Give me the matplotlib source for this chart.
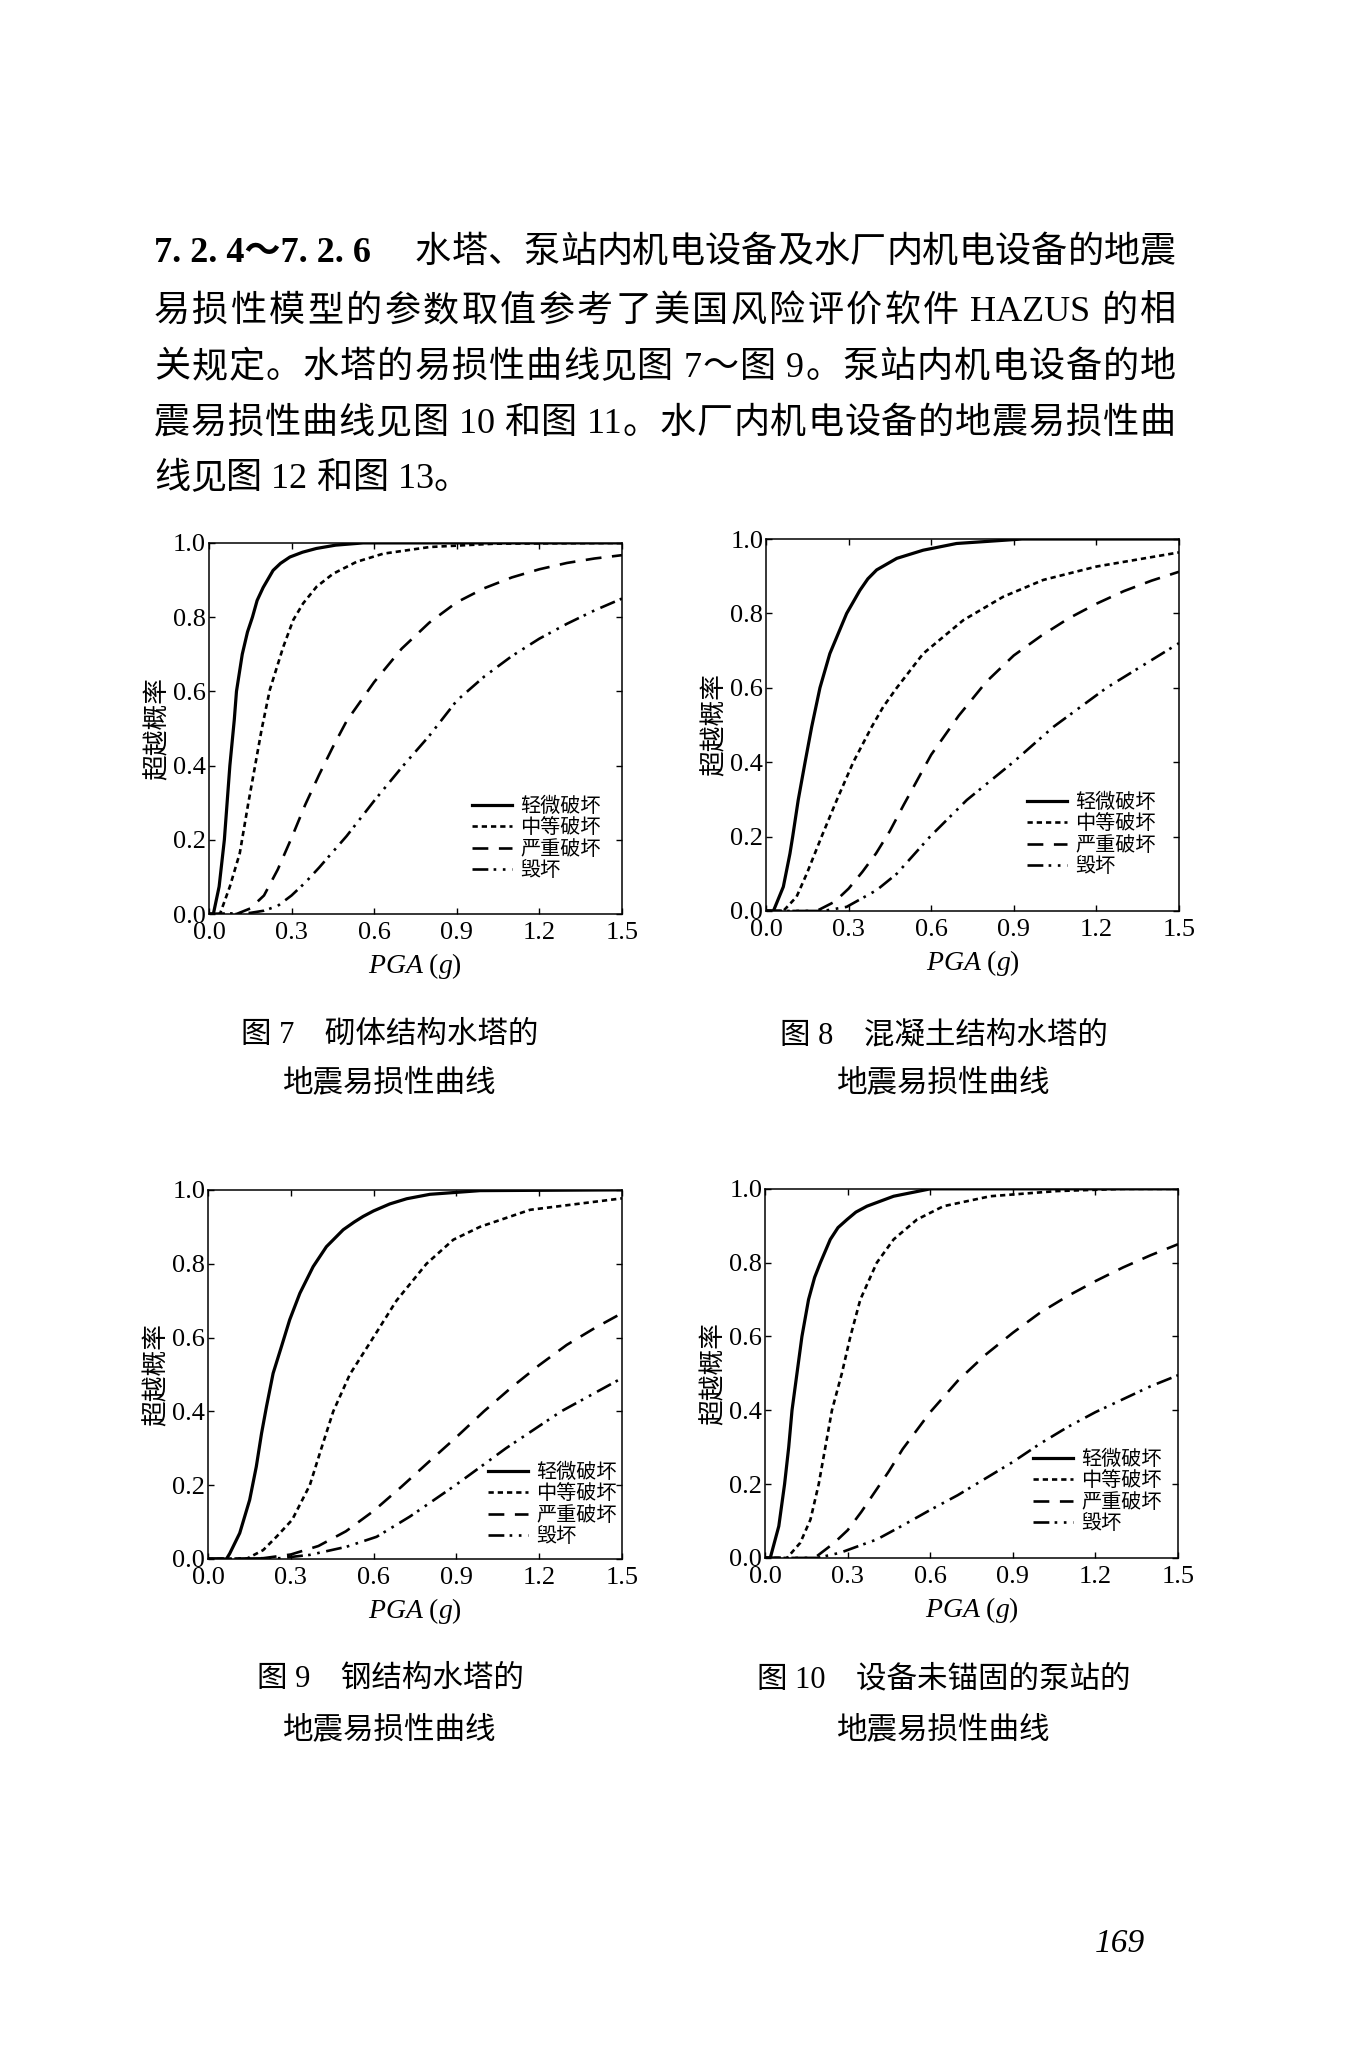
import re
import matplotlib
matplotlib.use("Agg")
import matplotlib.pyplot as plt
from matplotlib.ticker import FormatStrFormatter

plt.rcParams['font.family'] = ['Liberation Serif', 'Noto Sans CJK SC']
plt.rcParams['mathtext.fontset'] = 'custom'
plt.rcParams['mathtext.rm'] = 'Liberation Serif'
plt.rcParams['mathtext.it'] = 'Liberation Serif:italic'

W, H = 1355, 2048
CJK = ['Noto Sans CJK SC']

# ---- data ----
labels = ['轻微破坏', '中等破坏', '严重破坏', '毁坏']
xticks = [0.0, 0.3, 0.6, 0.9, 1.2, 1.5]
yticks = [0.0, 0.2, 0.4, 0.6, 0.8, 1.0]

# 图7 砌体结构水塔
f7_slight_x = [0, 0.016, 0.037, 0.056, 0.076, 0.092, 0.100, 0.121, 0.14, 0.158, 0.175, 0.197, 0.233, 0.26, 0.294, 0.34, 0.39, 0.46, 0.56, 1.5]
f7_slight_y = [0, 0.0, 0.074, 0.2, 0.4, 0.523, 0.6, 0.70, 0.76, 0.8, 0.845, 0.88, 0.926, 0.945, 0.962, 0.975, 0.985, 0.994, 1.0, 1.0]
f7_mod_x = [0, 0.04, 0.076, 0.112, 0.143, 0.167, 0.191, 0.221, 0.270, 0.306, 0.342, 0.391, 0.451, 0.536, 0.633, 0.802, 1.04, 1.5]
f7_mod_y = [0, 0.0, 0.074, 0.164, 0.299, 0.397, 0.496, 0.604, 0.720, 0.792, 0.837, 0.882, 0.917, 0.949, 0.971, 0.989, 0.998, 1.0]
f7_sev_x = [0, 0.1, 0.15, 0.2, 0.25, 0.3, 0.35, 0.4, 0.45, 0.5, 0.6, 0.7, 0.8, 0.9, 1.0, 1.1, 1.2, 1.3, 1.4, 1.5]
f7_sev_y = [0, 0.0, 0.015, 0.05, 0.12, 0.205, 0.295, 0.375, 0.45, 0.52, 0.625, 0.715, 0.785, 0.84, 0.878, 0.907, 0.929, 0.946, 0.958, 0.967]
f7_com_x = [0, 0.15, 0.2, 0.25, 0.3, 0.35, 0.4, 0.5, 0.6, 0.7, 0.8, 0.9, 1.0, 1.1, 1.2, 1.3, 1.4, 1.5]
f7_com_y = [0, 0.003, 0.009, 0.022, 0.05, 0.085, 0.125, 0.21, 0.305, 0.395, 0.48, 0.575, 0.64, 0.695, 0.742, 0.782, 0.818, 0.85]

# 图8 混凝土结构水塔
f8_slight_x = [0, 0.027, 0.063, 0.087, 0.097, 0.117, 0.142, 0.166, 0.196, 0.232, 0.293, 0.341, 0.37, 0.402, 0.475, 0.571, 0.692, 0.93, 1.5]
f8_slight_y = [0, 0.0, 0.065, 0.154, 0.2, 0.298, 0.4, 0.495, 0.6, 0.692, 0.8, 0.862, 0.893, 0.917, 0.948, 0.97, 0.988, 1.0, 1.0]
f8_mod_x = [0, 0.063, 0.111, 0.148, 0.202, 0.257, 0.317, 0.384, 0.426, 0.475, 0.571, 0.717, 0.862, 1.007, 1.2, 1.5]
f8_mod_y = [0, 0.0, 0.038, 0.10, 0.2, 0.298, 0.4, 0.495, 0.549, 0.6, 0.692, 0.782, 0.845, 0.89, 0.926, 0.964]
f8_sev_x = [0, 0.184, 0.25, 0.3, 0.35, 0.4, 0.45, 0.5, 0.6, 0.7, 0.8, 0.9, 1.0, 1.1, 1.2, 1.3, 1.4, 1.5]
f8_sev_y = [0, 0.0, 0.025, 0.06, 0.105, 0.155, 0.215, 0.285, 0.42, 0.525, 0.616, 0.687, 0.74, 0.787, 0.826, 0.86, 0.888, 0.912]
f8_com_x = [0, 0.208, 0.293, 0.402, 0.475, 0.596, 0.729, 0.898, 1.044, 1.237, 1.5]
f8_com_y = [0, 0.0, 0.011, 0.056, 0.10, 0.2, 0.298, 0.4, 0.495, 0.6, 0.72]

# 图9 钢结构水塔
f9_slight_x = [0, 0.067, 0.079, 0.115, 0.151, 0.175, 0.194, 0.212, 0.236, 0.266, 0.296, 0.333, 0.381, 0.429, 0.49, 0.53, 0.562, 0.6, 0.659, 0.72, 0.804, 0.986, 1.5]
f9_slight_y = [0, 0.0, 0.015, 0.07, 0.16, 0.25, 0.34, 0.413, 0.503, 0.575, 0.648, 0.72, 0.792, 0.846, 0.892, 0.913, 0.928, 0.943, 0.962, 0.976, 0.988, 0.998, 1.0]
f9_mod_x = [0, 0.139, 0.2, 0.248, 0.305, 0.369, 0.411, 0.454, 0.514, 0.599, 0.683, 0.792, 0.889, 0.986, 1.167, 1.5]
f9_mod_y = [0, 0.0, 0.024, 0.06, 0.106, 0.2, 0.3, 0.4, 0.5, 0.6, 0.7, 0.8, 0.865, 0.9, 0.946, 0.977]
f9_sev_x = [0, 0.2, 0.3, 0.4, 0.5, 0.6, 0.7, 0.8, 0.9, 1.0, 1.1, 1.2, 1.3, 1.4, 1.5]
f9_sev_y = [0, 0.002, 0.012, 0.035, 0.075, 0.13, 0.195, 0.263, 0.33, 0.40, 0.465, 0.525, 0.58, 0.625, 0.666]
f9_com_x = [0, 0.26, 0.369, 0.502, 0.611, 0.732, 0.897, 1.08, 1.28, 1.5]
f9_com_y = [0, 0.002, 0.011, 0.033, 0.06, 0.115, 0.2, 0.3, 0.4, 0.49]

# 图10 设备未锚固的泵站
f10_slight_x = [0, 0.019, 0.05, 0.071, 0.086, 0.098, 0.116, 0.134, 0.158, 0.18, 0.201, 0.237, 0.265, 0.298, 0.33, 0.37, 0.467, 0.6, 1.5]
f10_slight_y = [0, 0.0, 0.086, 0.2, 0.3, 0.4, 0.5, 0.6, 0.7, 0.76, 0.8, 0.863, 0.895, 0.917, 0.937, 0.953, 0.98, 1.0, 1.0]
f10_mod_x = [0, 0.08, 0.128, 0.165, 0.195, 0.219, 0.243, 0.279, 0.31, 0.346, 0.406, 0.467, 0.552, 0.648, 0.818, 1.06, 1.3, 1.5]
f10_mod_y = [0, 0.0, 0.041, 0.104, 0.2, 0.3, 0.4, 0.5, 0.6, 0.7, 0.8, 0.863, 0.917, 0.953, 0.98, 0.994, 1.0, 1.0]
f10_sev_x = [0, 0.18, 0.25, 0.3, 0.35, 0.4, 0.45, 0.5, 0.6, 0.7, 0.8, 0.9, 1.0, 1.1, 1.2, 1.3, 1.4, 1.5]
f10_sev_y = [0, 0.0, 0.04, 0.075, 0.125, 0.18, 0.235, 0.295, 0.395, 0.48, 0.55, 0.61, 0.665, 0.71, 0.75, 0.787, 0.82, 0.85]
f10_com_x = [0, 0.19, 0.273, 0.35, 0.406, 0.5, 0.6, 0.7, 0.8, 0.9, 1.0, 1.1, 1.2, 1.3, 1.4, 1.5]
f10_com_y = [0, 0.0, 0.014, 0.035, 0.05, 0.088, 0.13, 0.17, 0.215, 0.26, 0.31, 0.355, 0.395, 0.43, 0.465, 0.495]

para_head = '7. 2. 4～7. 2. 6'
para_lines = [
    '水塔、泵站内机电设备及水厂内机电设备的地震',
    '易损性模型的参数取值参考了美国风险评价软件 HAZUS 的相',
    '关规定。水塔的易损性曲线见图 7～图 9。泵站内机电设备的地',
    '震易损性曲线见图 10 和图 11。水厂内机电设备的地震易损性曲',
    '线见图 12 和图 13。',
]
captions = [
    ('图 7　砌体结构水塔的', '地震易损性曲线'),
    ('图 8　混凝土结构水塔的', '地震易损性曲线'),
    ('图 9　钢结构水塔的', '地震易损性曲线'),
    ('图 10　设备未锚固的泵站的', '地震易损性曲线'),
]
page_no = '169'

styles = ['-', (0, (2.0, 1.5)), (0, (6, 4)), (0, (6, 2, 1, 2.5, 1, 2.5))]
widths = [2.3, 1.9, 1.9, 1.9]

fig = plt.figure(figsize=(W / 100, H / 100), dpi=100)
renderer = fig.canvas.get_renderer()


def px(x, y):
    return x / W, 1 - y / H


def justify(ybase, s, x0, x1, **kw):
    toks = re.findall(r'[0-9A-Za-z. ]+|.', s)
    arts = [fig.text(0, 1 - ybase / H, t, va='baseline', **kw) for t in toks]
    ws = [a.get_window_extent(renderer).width for a in arts]
    gap = (x1 - x0 - sum(ws)) / (len(toks) - 1) if x1 else 0
    x = x0
    for a, w in zip(arts, ws):
        a.set_x(x / W)
        x += w + gap


def panel(rect, curves, leg_xy):
    ax = fig.add_axes(rect)
    for (xs, ys), st, lw, lab in zip(curves, styles, widths, labels):
        ax.plot(xs, ys, color='black', lw=lw, linestyle=st, label=lab)
    ax.set_xlim(0, 1.5)
    ax.set_ylim(0, 1.0)
    ax.set_xticks(xticks)
    ax.set_yticks(yticks)
    ax.xaxis.set_major_formatter(FormatStrFormatter('%.1f'))
    ax.yaxis.set_major_formatter(FormatStrFormatter('%.1f'))
    ax.tick_params(direction='in', top=True, right=True, length=4, width=1, labelsize=19)
    ax.tick_params(axis='y', pad=2)
    ax.tick_params(axis='x', pad=6)
    for s in ax.spines.values():
        s.set_linewidth(1.1)
    ax.set_ylabel('超越概率', fontsize=18.5, family=CJK)
    ax.yaxis.set_label_coords(-0.094, 0.5)
    ax.set_xlabel(r'$PGA\ (g)$', fontsize=20)
    ax.xaxis.set_label_coords(0.5, -0.1)
    ax.legend(loc='upper left', bbox_to_anchor=leg_xy, frameon=False,
              prop={'family': CJK, 'size': 14.5}, handlelength=2.0,
              handletextpad=0.4, labelspacing=0.02, borderpad=0, borderaxespad=0)
    return ax


panel([0.1542, 0.5537, 0.3048, 0.1812],
      [(f7_slight_x, f7_slight_y), (f7_mod_x, f7_mod_y), (f7_sev_x, f7_sev_y), (f7_com_x, f7_com_y)],
      (0.637, 0.318))
panel([0.5653, 0.5552, 0.3048, 0.1816],
      [(f8_slight_x, f8_slight_y), (f8_mod_x, f8_mod_y), (f8_sev_x, f8_sev_y), (f8_com_x, f8_com_y)],
      (0.632, 0.32))
panel([0.1535, 0.2388, 0.3055, 0.1802],
      [(f9_slight_x, f9_slight_y), (f9_mod_x, f9_mod_y), (f9_sev_x, f9_sev_y), (f9_com_x, f9_com_y)],
      (0.676, 0.263))
panel([0.5646, 0.2393, 0.3048, 0.1802],
      [(f10_slight_x, f10_slight_y), (f10_mod_x, f10_mod_y), (f10_sev_x, f10_sev_y), (f10_com_x, f10_com_y)],
      (0.649, 0.295))

# paragraph
fig.text(*px(154, 262), para_head, fontsize=26, fontweight='bold', va='baseline')
baselines = [262, 321, 377, 433, 488]
for i, (line, yb) in enumerate(zip(para_lines, baselines)):
    if i == 0:
        justify(yb, line, 415, 1176, fontsize=26)
    elif i < 4:
        justify(yb, line, 154, 1176, fontsize=26)
    else:
        justify(yb, line, 154, None, fontsize=26)

# captions
cap_pos = [(390, 1043, 1091), (944, 1043, 1091), (390, 1687, 1738), (944, 1687, 1738)]
for (c1, c2), (cx, y1, y2) in zip(captions, cap_pos):
    fig.text(*px(cx, y1), c1, fontsize=22, ha='center', va='baseline')
    fig.text(*px(cx, y2), c2, fontsize=22, ha='center', va='baseline')

fig.text(*px(1120, 1952), page_no, fontsize=24, style='italic', ha='center', va='baseline')

fig.savefig('out.png', dpi=100)
